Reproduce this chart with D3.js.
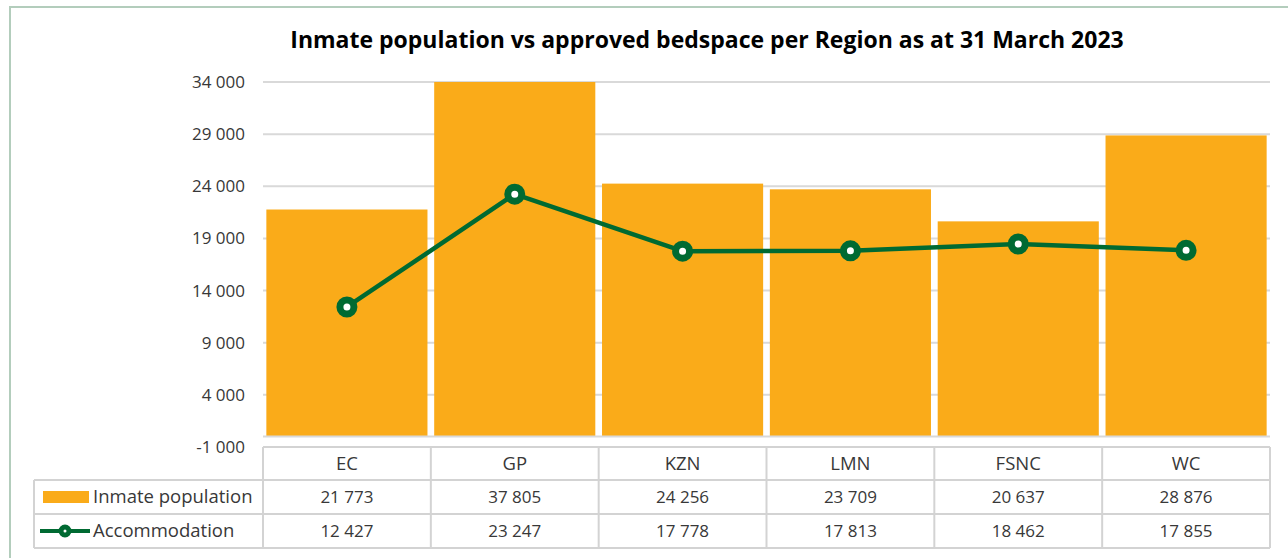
<!DOCTYPE html>
<html>
<head>
<meta charset="utf-8">
<script src="https://cdn.jsdelivr.net/npm/d3@7"></script>
<style>
  html, body { margin: 0; padding: 0; background: #fff; }
  svg { display: block; }
  text { font-family: "Open Sans", "Noto Sans", sans-serif; }
</style>
</head>
<body>
<svg id="chart" width="1288" height="558"></svg>
<script>
const title = "Inmate population vs approved bedspace per Region as at 31 March 2023";
const categories = ["EC", "GP", "KZN", "LMN", "FSNC", "WC"];
const inmatePopulation = [21773, 37805, 24256, 23709, 20637, 28876];
const accommodation = [12427, 23247, 17778, 17813, 18462, 17855];
const yTicks = [-1000, 4000, 9000, 14000, 19000, 24000, 29000, 34000];
const seriesNames = ["Inmate population", "Accommodation"];

const barColor = "#FAAB19";
const lineColor = "#006A32";
const gridColor = "#D9D9D9";
const tableColor = "#D3D3D3";
const textColor = "#383838";

const loc = d3.formatLocale({ decimal: ",", thousands: "\u00a0", grouping: [3], currency: ["", ""], minus: "-" });
const fmt = loc.format(",d");

const svg = d3.select("#chart");

// outer border
svg.append("rect").attr("x", 10).attr("y", 7).attr("width", 1300).attr("height", 600)
  .attr("fill", "none").attr("stroke", "#B3CDBC").attr("stroke-width", 2);

const plot = { left: 263, right: 1270, top: 82, bottom: 447 };

const x = d3.scaleBand().domain(categories).range([plot.left, plot.right])
  .paddingInner(0.04).paddingOuter(0.02);
const y = d3.scaleLinear().domain([-1000, 34000]).range([plot.bottom, plot.top]);

// title
svg.append("text").attr("x", 707).attr("y", 48).attr("text-anchor", "middle")
  .attr("font-size", 23).attr("font-weight", "bold").attr("fill", "#000")
  .text(title);

// gridlines
svg.append("g").selectAll("line").data(yTicks.filter(t => t > -1000)).join("line")
  .attr("x1", plot.left).attr("x2", plot.right)
  .attr("y1", d => y(d)).attr("y2", d => y(d))
  .attr("stroke", gridColor).attr("stroke-width", 2);

// y axis labels
const yAxis = d3.axisLeft(y).tickValues(yTicks).tickFormat(fmt).tickSize(0).tickPadding(18);
const yg = svg.append("g").attr("transform", `translate(${plot.left},0)`).call(yAxis);
yg.select(".domain").remove();
yg.selectAll("text").attr("font-size", 17).attr("fill", textColor)
  .style("font-family", '"Open Sans", sans-serif');

// clip
svg.append("clipPath").attr("id", "plotclip").append("rect")
  .attr("x", plot.left).attr("y", plot.top).attr("width", plot.right - plot.left).attr("height", plot.bottom - plot.top);

// bars
svg.append("g").attr("clip-path", "url(#plotclip)").selectAll("rect")
  .data(categories.map((c, i) => ({ c, v: inmatePopulation[i] }))).join("rect")
  .attr("x", d => x(d.c)).attr("width", x.bandwidth())
  .attr("y", d => y(d.v)).attr("height", d => y(0) - y(d.v))
  .attr("fill", barColor);

// zero axis line
svg.append("line").attr("x1", plot.left).attr("x2", plot.right)
  .attr("y1", y(0)).attr("y2", y(0)).attr("stroke", gridColor).attr("stroke-width", 2);

// line series
const pts = categories.map((c, i) => ({ c, v: accommodation[i] }));
const line = d3.line().x(d => x(d.c) + x.bandwidth() / 2).y(d => y(d.v));
svg.append("path").datum(pts).attr("d", line).attr("fill", "none")
  .attr("stroke", lineColor).attr("stroke-width", 4.5).attr("stroke-linejoin", "round");
svg.append("g").selectAll("circle").data(pts).join("circle")
  .attr("cx", d => x(d.c) + x.bandwidth() / 2).attr("cy", d => y(d.v))
  .attr("r", 7).attr("fill", "#fff").attr("stroke", lineColor).attr("stroke-width", 7);

// data table
const step = x.step();
const colX = i => plot.left + i * step;
const rows = { header: [447, 480], r1: [480, 514], r2: [514, 548] };
const tableLeft = 34;
const tg = svg.append("g");
const tl = (x1, y1, x2, y2) => tg.append("line").attr("x1", x1).attr("y1", y1).attr("x2", x2).attr("y2", y2)
  .attr("stroke", tableColor).attr("stroke-width", 2);
tl(plot.left, rows.header[0], plot.right, rows.header[0]);
tl(tableLeft, rows.r1[0], plot.right, rows.r1[0]);
tl(tableLeft, rows.r2[0], plot.right, rows.r2[0]);
tl(tableLeft, rows.r2[1], plot.right, rows.r2[1]);
tl(tableLeft, rows.r1[0], tableLeft, rows.r2[1]);
categories.forEach((c, i) => tl(colX(i), rows.header[0], colX(i), rows.r2[1]));
tl(plot.right, rows.header[0], plot.right, rows.r2[1]);

const cellText = (cx, cy, s, anchor, size) => tg.append("text").attr("x", cx).attr("y", cy)
  .attr("dy", "0.35em").attr("text-anchor", anchor || "middle")
  .attr("font-size", size || 17).attr("fill", textColor).text(s);

categories.forEach((c, i) => {
  const cx = colX(i) + step / 2;
  cellText(cx, (rows.header[0] + rows.header[1]) / 2, c, "middle", 18.5);
  cellText(cx, (rows.r1[0] + rows.r1[1]) / 2, fmt(inmatePopulation[i]));
  cellText(cx, (rows.r2[0] + rows.r2[1]) / 2, fmt(accommodation[i]));
});

// legend keys
const r1c = (rows.r1[0] + rows.r1[1]) / 2, r2c = (rows.r2[0] + rows.r2[1]) / 2;
tg.append("rect").attr("x", 43).attr("y", r1c - 6).attr("width", 46).attr("height", 12).attr("fill", barColor);
cellText(93, r1c, seriesNames[0], "start", 18.5);
tg.append("line").attr("x1", 40).attr("x2", 90).attr("y1", r2c).attr("y2", r2c)
  .attr("stroke", lineColor).attr("stroke-width", 4);
tg.append("circle").attr("cx", 65).attr("cy", r2c).attr("r", 4)
  .attr("fill", "#fff").attr("stroke", lineColor).attr("stroke-width", 5);
cellText(93, r2c, seriesNames[1], "start", 18.5);
</script>
</body>
</html>
